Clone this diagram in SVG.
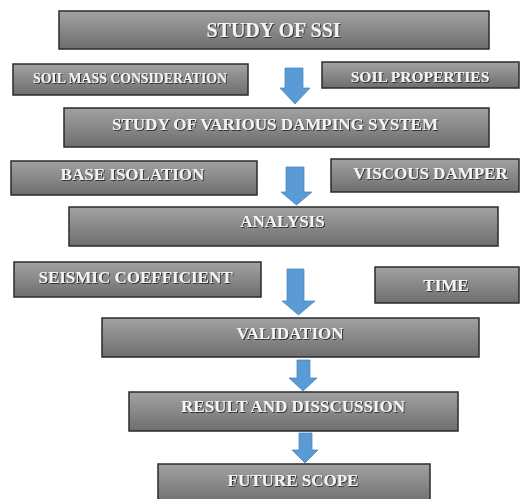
<svg xmlns="http://www.w3.org/2000/svg" width="520" height="499" viewBox="0 0 520 499">
<defs>
<linearGradient id="g" x1="0" y1="0" x2="0" y2="1">
<stop offset="0" stop-color="#a2a2a2"/>
<stop offset="1" stop-color="#6e6e6e"/>
</linearGradient>
<filter id="sh" x="-10%" y="-30%" width="120%" height="160%">
<feDropShadow dx="1" dy="1" stdDeviation="0.7" flood-color="#2a2a2a" flood-opacity="0.9"/>
</filter>
</defs>
<style>
.box{fill:url(#g);stroke:#2b2b2b;stroke-width:1.5}
.t{font-family:"Liberation Serif","Times New Roman",serif;font-weight:bold;fill:#f4f4f4;text-anchor:middle;font-size:17px;filter:url(#sh)}
.arr{fill:#5b9bd5;stroke:#4a86bf;stroke-width:0.75}
</style>
<rect width="520" height="499" fill="#ffffff"/>
<g id="n-ssi"><rect class="box" x="59" y="11" width="430" height="38"/><text class="t" x="273.5" y="37" style="font-size:20px">STUDY OF SSI</text></g>
<g id="n-soilmass"><rect class="box" x="13" y="64" width="235" height="31"/><text class="t" x="130" y="83" style="font-size:14px" textLength="194" lengthAdjust="spacingAndGlyphs">SOIL MASS CONSIDERATION</text></g>
<g id="n-soilprop"><rect class="box" x="322" y="62" width="197" height="26"/><text class="t" x="420" y="82" style="font-size:15.5px">SOIL PROPERTIES</text></g>
<g id="n-damping"><rect class="box" x="64" y="108" width="425" height="39"/><text class="t" x="275" y="130">STUDY OF VARIOUS DAMPING SYSTEM</text></g>
<g id="n-base"><rect class="box" x="11" y="161" width="246" height="34"/><text class="t" x="132.5" y="180">BASE ISOLATION</text></g>
<g id="n-viscous"><rect class="box" x="331" y="159" width="188" height="33"/><text class="t" x="430.5" y="179">VISCOUS DAMPER</text></g>
<g id="n-analysis"><rect class="box" x="69" y="207" width="429" height="39"/><text class="t" x="282.5" y="227">ANALYSIS</text></g>
<g id="n-seismic"><rect class="box" x="14" y="262" width="247" height="35"/><text class="t" x="135.5" y="283">SEISMIC COEFFICIENT</text></g>
<g id="n-time"><rect class="box" x="375" y="267" width="144" height="36"/><text class="t" x="446" y="291">TIME</text></g>
<g id="n-validation"><rect class="box" x="102" y="318" width="377" height="39"/><text class="t" x="290" y="339">VALIDATION</text></g>
<g id="n-result"><rect class="box" x="129" y="392" width="329" height="39"/><text class="t" x="293" y="412">RESULT AND DISSCUSSION</text></g>
<g id="n-future"><rect class="box" x="158" y="464" width="272" height="40"/><text class="t" x="293" y="486">FUTURE SCOPE</text></g>
<g id="connectors">
<path class="arr" d="M285,68 H303 V88 H310 L295,104 L280,88 H285 Z"/>
<path class="arr" d="M286,167 H304 V192 H312 L296.5,205 L281,192 H286 Z"/>
<path class="arr" d="M287,269 H304 V301 H315 L298.5,315 L282,301 H287 Z"/>
<path class="arr" d="M297,360 H310 V378 H317 L303,391 L289,378 H297 Z"/>
<path class="arr" d="M299,433 H312 V450 H318 L305,463 L292,450 H299 Z"/>
</g>
</svg>
